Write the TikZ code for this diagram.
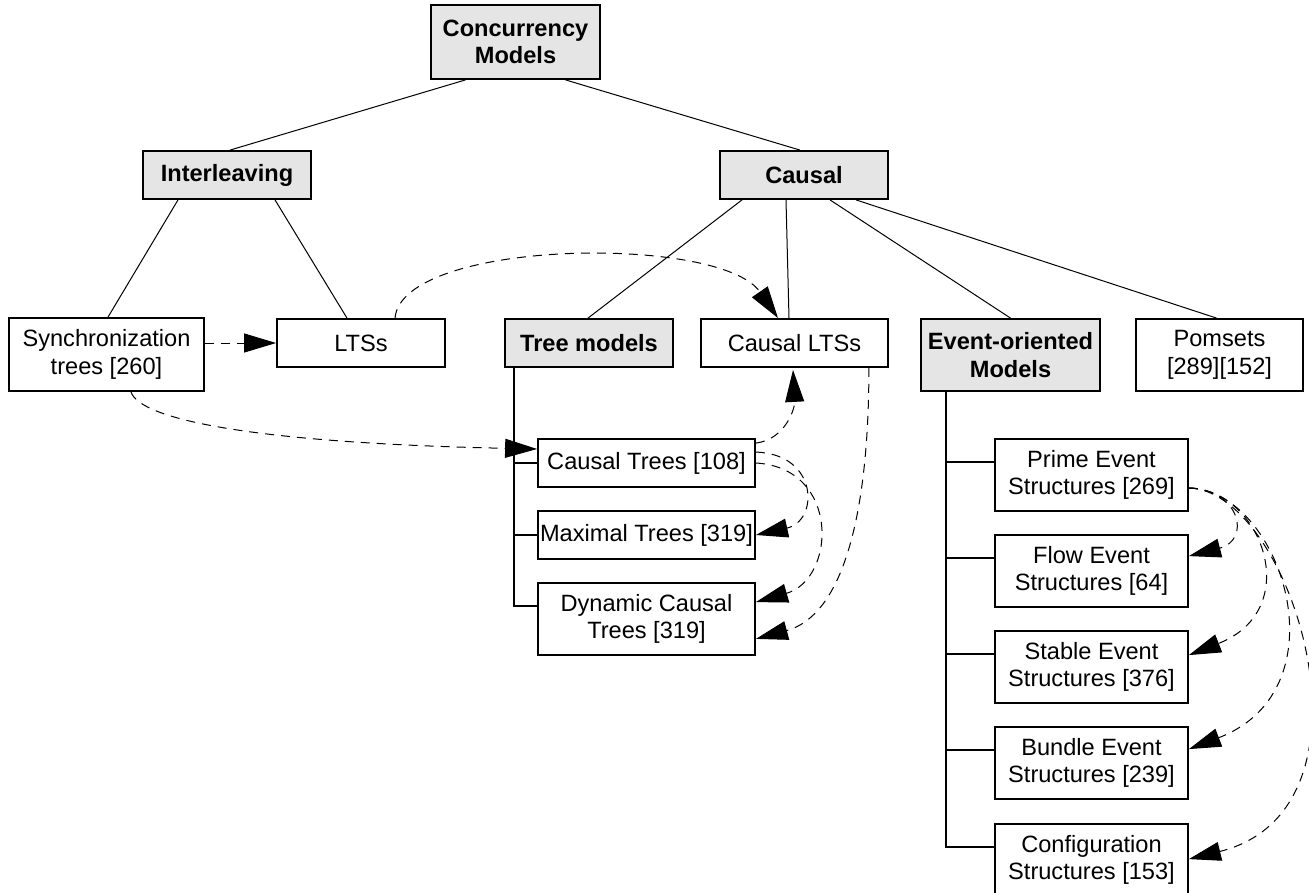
\documentclass[tikz,border=0pt]{standalone}
\usepackage{fontspec}
\setmainfont{Liberation Sans}
\usetikzlibrary{arrows.meta,calc}
\newcommand\boxfont{\fontsize{23.6}{27.5}\selectfont}
\begin{document}
\begin{tikzpicture}[x=1pt,y=-1pt,
  model/.style={draw,line width=1.8pt,inner sep=0pt,align=center,font=\boxfont},
  group/.style={model,fill=black!10,font=\boxfont\bfseries},
  edge/.style={line width=1pt},
  trunk/.style={line width=2pt},
  link/.style={line width=1pt,dash pattern=on 9pt off 7pt,
    -{Triangle[length=32pt,width=19pt]}}]
\useasboundingbox (0,0) rectangle (1309,893);
\fill[white] (0,0) rectangle (1309,893);

% top levels
\node[group,minimum width=169,minimum height=74] (cm) at (515.5,42) {Concurrency\\Models};
\node[group,minimum width=168,minimum height=48] (il) at (227,175) {Interleaving};
\node[group,minimum width=168,minimum height=48] (ca) at (804,175) {Causal};

% second row
\node[model,minimum width=195,minimum height=73] (sy) at (106.5,354.5) {Synchronization\\trees [260]};
\node[model,minimum width=168,minimum height=48] (lt) at (361,343) {LTSs};
\node[group,minimum width=168,minimum height=48] (tm) at (589,343) {Tree models};
\node[model,minimum width=187,minimum height=48] (cl) at (794.5,343) {Causal LTSs};
\node[group,minimum width=179,minimum height=72] (eo) at (1010.5,355) {Event-oriented\\Models};
\node[model,minimum width=167,minimum height=72] (po) at (1219.5,355) {Pomsets\\{[289][152]}};

% tree models
\node[model,minimum width=217,minimum height=48] (ct) at (646.5,463) {Causal Trees [108]};
\node[model,minimum width=217,minimum height=48] (mt) at (646.5,535) {Maximal Trees [319]};
\node[model,minimum width=217,minimum height=72] (dt) at (646.5,619) {Dynamic Causal\\Trees [319]};

% event structures
\node[model,minimum width=193,minimum height=72] (pe) at (1091.5,475) {Prime Event\\Structures [269]};
\node[model,minimum width=193,minimum height=72] (fe) at (1091.5,571) {Flow Event\\Structures [64]};
\node[model,minimum width=193,minimum height=72] (se) at (1091.5,667) {Stable Event\\Structures [376]};
\node[model,minimum width=193,minimum height=72] (be) at (1091.5,763) {Bundle Event\\Structures [239]};
\node[model,minimum width=193,minimum height=72] (cf) at (1091.5,860) {Configuration\\Structures [153]};

% hierarchy edges
\draw[edge] ($(cm.south)+(-50,0)$) -- ($(il.north)+(3,0)$);
\draw[edge] ($(cm.south)+(50,0)$) -- ($(ca.north)+(-4,0)$);
\draw[edge] ($(il.south)+(-49,0)$) -- ($(sy.north)+(1.5,0)$);
\draw[edge] ($(il.south)+(48,0)$) -- ($(lt.north)+(-14,0)$);
\draw[edge] ($(ca.south)+(-62,0)$) -- ($(tm.north)+(-1,0)$);
\draw[edge] ($(ca.south)+(-18,0)$) -- ($(cl.north)+(-5.5,0)$);
\draw[edge] ($(ca.south)+(26,0)$) -- (eo.north);
\draw[edge] ($(ca.south)+(52,0)$) -- ($(po.north)+(-3,0)$);

% tree model trunk
\coordinate (tmt) at ($(tm.south west)+(10,0)$);
\coordinate (dtb) at ($(dt.north west)+(0,24)$);
\draw[trunk] (tmt) |- (dtb);
\draw[trunk] (tmt |- ct.west) -- (ct.west);
\draw[trunk] (tmt |- mt.west) -- (mt.west);

% event structure trunk
\coordinate (eot) at ($(eo.south west)+(26,0)$);
\coordinate (peb) at ($(pe.north west)+(0,24)$);
\coordinate (feb) at ($(fe.north west)+(0,24)$);
\coordinate (seb) at ($(se.north west)+(0,24)$);
\coordinate (beb) at ($(be.north west)+(0,24)$);
\coordinate (cfb) at ($(cf.north west)+(0,24)$);
\draw[trunk] (eot) |- (cfb);
\draw[trunk] (eot |- peb) -- (peb);
\draw[trunk] (eot |- feb) -- (feb);
\draw[trunk] (eot |- seb) -- (seb);
\draw[trunk] (eot |- beb) -- (beb);

% dashed relations
\draw[link] (sy.east |- lt.west) -- (lt.west);
\draw[link] ($(lt.north)+(34,0)$) .. controls +(7,-79) and +(-58,-84) .. ($(cl.north)+(-16.5,0)$);
\draw[link] ($(sy.south)+(24.5,0)$) .. controls +(9,28) and +(-280,-6) .. ($(ct.west)+(0,-14)$);
\draw[link] ($(ct.north east)+(0,5)$) .. controls +(30,-4) and +(2,38) .. ($(cl.south)+(-1.5,2)$);
\draw[link] ($(ct.north east)+(0,14)$) .. controls +(63,2) and +(63,-14) .. (mt.east);
\draw[link] (ct.east) .. controls +(85,5) and +(80,-23) .. ($(dt.north east)+(0,20)$);
\draw[link] ($(cl.south east)+(-20,0)$) .. controls +(0,153) and +(85,-23) .. ($(dt.south east)+(0,-17)$);

\coordinate (ps) at ($(pe.east)+(0,13)$);
\draw[link] (ps) .. controls +(52,2) and +(62,-16) .. ($(fe.north east)+(0,22)$);
\draw[link] (ps) .. controls +(72,1) and +(117,-46) .. ($(se.north east)+(0,25)$);
\draw[link] (ps) .. controls +(92,2) and +(157,-60) .. ($(be.north east)+(0,23)$);
\draw[link] (ps) .. controls +(102,2) and +(202,-50) .. ($(cf.north east)+(0,36)$);
\end{tikzpicture}
\end{document}
